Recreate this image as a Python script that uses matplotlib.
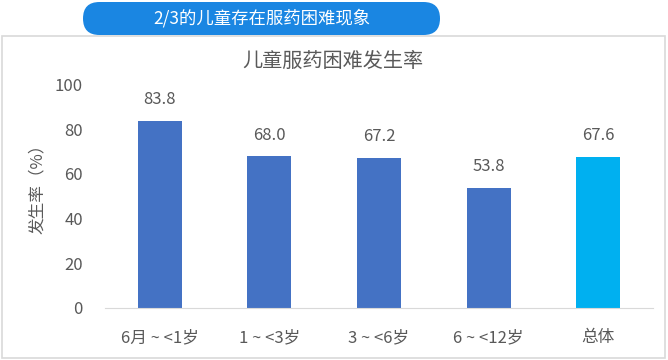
import matplotlib
matplotlib.use("Agg")
import matplotlib.pyplot as plt
from matplotlib.patches import FancyBboxPatch, Rectangle

plt.rcParams['font.family'] = ['Noto Sans CJK SC', 'DejaVu Sans']

categories = ["6月 ~ <1岁", "1 ~ <3岁", "3 ~ <6岁", "6 ~ <12岁", "总体"]
values = [83.8, 68.0, 67.2, 53.8, 67.6]
colors = ["#4472C4", "#4472C4", "#4472C4", "#4472C4", "#00B0F0"]
yticks = [0, 20, 40, 60, 80, 100]
chart_title = "儿童服药困难发生率"
banner = "2/3的儿童存在服药困难现象"
ylabel = "发生率（%）"

W, H = 668, 360
fig = plt.figure(figsize=(W / 100, H / 100), dpi=100)
fig.patch.set_facecolor("white")

# background axes in pixel coordinates
bg = fig.add_axes([0, 0, 1, 1], zorder=-1)
bg.set_xlim(0, W)
bg.set_ylim(H, 0)
bg.axis("off")
bg.add_patch(Rectangle((2, 36), 663, 322, facecolor="white",
                       edgecolor="#d9d9d9", linewidth=1.2))
bg.add_patch(FancyBboxPatch((83, 2), 357, 33,
                            boxstyle="round,pad=0,rounding_size=16.5",
                            facecolor="#1a86e2", edgecolor="none"))
bg.text(262, 18, banner, color="white", fontsize=12.5, ha="center", va="center")
bg.text(333, 61, chart_title, color="#595959", fontsize=14.5, ha="center", va="center")

# chart axes
left, right, top, bottom = 105, 653, 84.5, 308
ax = fig.add_axes([left / W, 1 - bottom / H, (right - left) / W, (bottom - top) / H])
ax.patch.set_alpha(0)
x = list(range(len(categories)))
bars = ax.bar(x, values, width=0.40, color=colors, zorder=2)
ax.set_xlim(-0.5, len(categories) - 0.5)
ax.set_ylim(0, 100)
ax.set_yticks(yticks)
ax.set_xticks(x)
ax.set_xticklabels(categories)
for s in ["top", "right", "left"]:
    ax.spines[s].set_visible(False)
ax.spines["bottom"].set_color("#d9d9d9")
ax.tick_params(axis="both", length=0, colors="#595959", labelsize=12)
ax.tick_params(axis="y", pad=16)
ax.tick_params(axis="x", pad=15)
for b, v in zip(bars, values):
    ax.annotate(f"{v:.1f}", (b.get_x() + b.get_width() / 2, v), xytext=(0, 9),
                textcoords="offset points", ha="center", va="bottom",
                color="#595959", fontsize=12)
ax.set_ylabel(ylabel, color="#595959", fontsize=12)
ax.yaxis.set_label_coords((46 - left) / (right - left), 0.55)

fig.savefig("out.png", dpi=100)
